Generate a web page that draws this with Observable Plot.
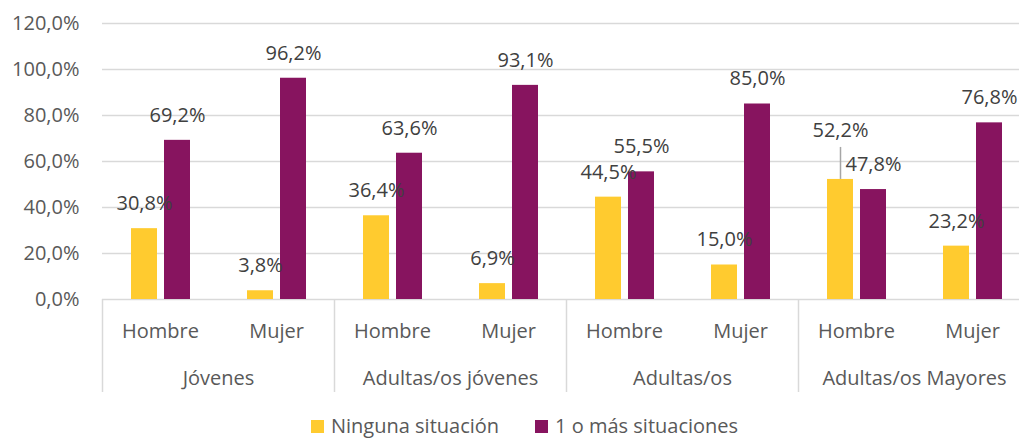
<!DOCTYPE html>
<html><head><meta charset="utf-8">
<script src="https://cdn.jsdelivr.net/npm/d3@7"></script>
<script src="https://cdn.jsdelivr.net/npm/@observablehq/plot@0.6"></script>
<style>
html,body{margin:0;padding:0;background:#fff;overflow:hidden;width:1019px;}
#chart{width:1019px;overflow:hidden;height:400px;}
#legend{display:flex;align-items:center;height:36px;margin-top:8px;font-family:"Open Sans";font-size:20px;line-height:22px;color:#595959;padding-left:311px;}
.item{display:flex;align-items:center;margin-right:36px;}
.sw{width:13px;height:13px;display:inline-block;margin-right:7px;}
</style></head><body>
<div id="chart"></div>
<div id="legend"></div>
<script>
const groups = ["Jóvenes", "Adultas/os jóvenes", "Adultas/os", "Adultas/os Mayores"];
const sexes = ["Hombre", "Mujer"];
const seriesNames = ["Ninguna situación", "1 o más situaciones"];
// values in order: group × sex
const ninguna = [30.8, 3.8, 36.4, 6.9, 44.5, 15.0, 52.2, 23.2];
const unoOMas = [69.2, 96.2, 63.6, 93.1, 55.5, 85.0, 47.8, 76.8];
const yTicks = [0, 20, 40, 60, 80, 100, 120];
const colors = ["#FFCB2F", "#87145F"];

const slots = groups.flatMap(g => sexes.map(s => g + "|" + s));
const rows = [];
slots.forEach((slot, i) => {
  rows.push({slot, series: seriesNames[0], value: ninguna[i]});
  rows.push({slot, series: seriesNames[1], value: unoOMas[i]});
});
const fmt = v => v.toFixed(1).replace(".", ",") + "%";
const leaderSlot = "Adultas/os Mayores|Hombre";
const isLeader = d => d.slot === leaderSlot && d.series === seriesNames[0];

const s0 = rows.filter(d => d.series === seriesNames[0]);
const s1 = rows.filter(d => d.series === seriesNames[1]);

const plot = Plot.plot({
  width: 1030, height: 400,
  marginLeft: 102, marginRight: 0, marginTop: 23, marginBottom: 101,
  style: {fontFamily: "'Open Sans'", fontSize: "20px", color: "#595959", background: "#fff", overflow: "visible", maxWidth: "none"},
  x: {domain: slots, padding: 0, axis: null},
  y: {domain: [0, 120], axis: null},
  marks: [
    Plot.gridY(yTicks, {stroke: "#d9d9d9", strokeOpacity: 1, strokeWidth: 1.5}),
    Plot.axisY(yTicks, {tickSize: 0, tickPadding: 23, tickFormat: fmt, fill: "#595959", label: null}),
    Plot.ruleX(groups, {x: g => g + "|Hombre", dx: -58, insetTop: 276, insetBottom: -93, stroke: "#d9d9d9", strokeWidth: 1.5}),
    Plot.barY(s0, {x: "slot", y: "value", fill: colors[0], insetLeft: 29, insetRight: 61}),
    Plot.barY(s1, {x: "slot", y: "value", fill: colors[1], insetLeft: 62, insetRight: 28}),
    Plot.text(s0.filter(d => !isLeader(d)), {x: "slot", y: "value", text: d => fmt(d.value), dx: -16, dy: -25, lineAnchor: "middle", fill: "#404040"}),
    Plot.text(s0.filter(isLeader), {x: "slot", y: "value", text: d => fmt(d.value), dx: -16, dy: -49, lineAnchor: "middle", fill: "#404040"}),
    Plot.ruleX(s0.filter(isLeader), {x: "slot", y1: "value", y2: "value", insetBottom: 32, dx: -16, stroke: "#a6a6a6", strokeWidth: 1.5}),
    Plot.text(s1, {x: "slot", y: "value", text: d => fmt(d.value), dx: 17, dy: -25, lineAnchor: "middle", fill: "#404040"}),
    Plot.text(slots, {x: d => d, text: d => d.split("|")[1], frameAnchor: "bottom", dy: 32, lineAnchor: "middle", fill: "#595959"}),
    Plot.text(groups, {x: g => g + "|Hombre", text: d => d, dx: 58, frameAnchor: "bottom", dy: 79, lineAnchor: "middle", fill: "#595959"})
  ]
});
document.getElementById("chart").appendChild(plot);

const legend = document.getElementById("legend");
seriesNames.forEach((name, i) => {
  const item = document.createElement("span");
  item.className = "item";
  const sw = document.createElement("span");
  sw.className = "sw";
  sw.style.background = colors[i];
  const label = document.createElement("span");
  label.textContent = name;
  item.appendChild(sw);
  item.appendChild(label);
  legend.appendChild(item);
});
</script>
</body></html>
